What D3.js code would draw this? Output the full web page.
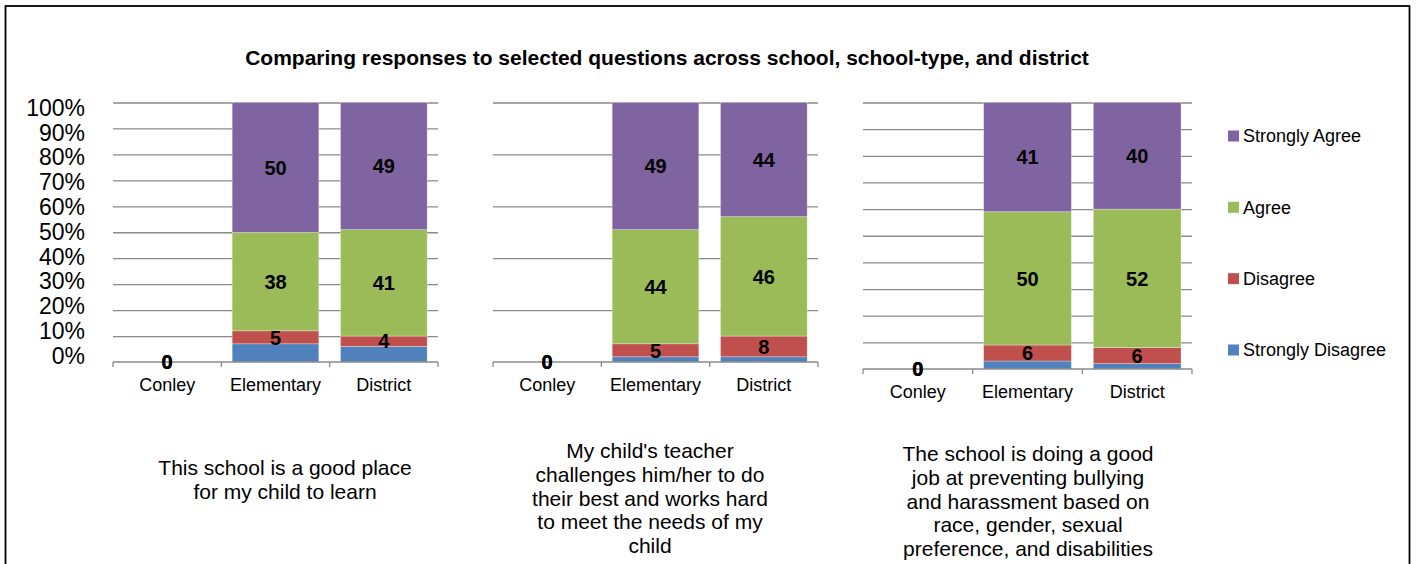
<!DOCTYPE html>
<html>
<head>
<meta charset="utf-8">
<script src="https://cdn.jsdelivr.net/npm/d3@7"></script>
<style>
  body { margin: 0; background: #fff; }
  text { font-family: "Liberation Sans", Arial, sans-serif; fill: #000; }
</style>
</head>
<body>
<svg id="chart" width="1422" height="564"></svg>
<script>
// chart values
var categories = ['Conley', 'Elementary', 'District'];
var seriesNames = ['Strongly Disagree', 'Disagree', 'Agree', 'Strongly Agree'];
var seriesColors = ['#4F81BD', '#C0504D', '#9BBB59', '#8064A2'];

// one row per question, one value per category
var stronglyDisagree = [[0, 7, 6], [0, 2, 2], [0, 3, 2]];
var disagree = [[0, 5, 4], [0, 5, 8], [0, 6, 6]];
var agree = [[0, 38, 41], [0, 44, 46], [0, 50, 52]];
var stronglyAgree = [[0, 50, 49], [0, 49, 44], [0, 41, 40]];

var questions = [
  ['This school is a good place', 'for my child to learn'],
  ["My child's teacher", 'challenges him/her to do', 'their best and works hard', 'to meet the needs of my', 'child'],
  ['The school is doing a good', 'job at preventing bullying', 'and harassment based on', 'race, gender, sexual', 'preference, and disabilities']
];

var yTicks10 = [0, 10, 20, 30, 40, 50, 60, 70, 80, 90, 100];
var yTicks20 = [0, 20, 40, 60, 80, 100];

var title = 'Comparing responses to selected questions across school, school-type, and district';

// layout of the three small charts
var panels = [
  {x0: 113, x1: 438, yTop: 102.5, yBot: 362, ticks: yTicks10, yLabels: true, textX: 285, textY: 475},
  {x0: 493, x1: 818, yTop: 102.5, yBot: 362, ticks: yTicks20, yLabels: false, textX: 650, textY: 458},
  {x0: 863, x1: 1192, yTop: 102.5, yBot: 369, ticks: yTicks10, yLabels: false, textX: 1028, textY: 461}
];

var svg = d3.select('svg#chart');

svg.append('rect')
  .attr('x', 5.5)
  .attr('y', 6)
  .attr('width', 1404)
  .attr('height', 600)
  .style('fill', '#fff')
  .style('stroke', '#000')
  .style('stroke-width', 1.8);

svg.append('text')
  .attr('x', 667)
  .attr('y', 65)
  .attr('text-anchor', 'middle')
  .style('font-size', '21px')
  .style('font-weight', 'bold')
  .text(title);

var series = [stronglyDisagree, disagree, agree, stronglyAgree];
var stack = d3.stack().keys(seriesNames);

panels.forEach(function (p, qi) {
  var rows = categories.map(function (c, ci) {
    var row = {category: c};
    seriesNames.forEach(function (s, si) {
      row[s] = series[si][qi][ci];
    });
    return row;
  });

  var x = d3.scaleBand()
    .domain(categories)
    .range([p.x0, p.x1])
    .paddingInner(0.2)
    .paddingOuter(0.1);

  var y = d3.scaleLinear()
    .domain([0, 100])
    .range([p.yBot, p.yTop]);

  var g = svg.append('g');

  // gridlines
  g.append('g')
    .attr('transform', 'translate(' + p.x0 + ',0)')
    .call(d3.axisLeft(y)
      .tickValues(p.ticks.filter(function (t) { return t > 0; }))
      .tickSize(-(p.x1 - p.x0))
      .tickFormat(''))
    .call(function (a) {
      a.select('.domain').remove();
      a.selectAll('.tick line').style('stroke', '#8a8a8a').style('stroke-width', 1.3);
    });

  // y labels (only the first chart), Excel packs them a bit tighter than the grid
  if (p.yLabels) {
    var yLab = y.copy().range([p.yBot - 6, p.yTop + 5.5]);
    g.append('g')
      .attr('transform', 'translate(' + (p.x0 - 28) + ',0)')
      .call(d3.axisLeft(yLab)
        .tickValues(p.ticks)
        .tickSize(0)
        .tickPadding(0)
        .tickFormat(function (d) { return d + '%'; }))
      .call(function (a) {
        a.select('.domain').remove();
        a.selectAll('text')
          .style('font-size', '23px')
          .style('font-family', '"Liberation Sans", Arial, sans-serif')
          .attr('fill', '#000');
      });
  }

  // stacked bars
  var layers = stack(rows);
  g.selectAll('g.layer')
    .data(layers)
    .enter()
    .append('g')
      .attr('class', 'layer')
      .style('fill', function (d, i) { return seriesColors[i]; })
    .selectAll('rect')
    .data(function (d) { return d; })
    .enter()
    .append('rect')
      .attr('x', function (d) { return x(d.data.category); })
      .attr('width', x.bandwidth())
      .attr('y', function (d) { return y(d[1]); })
      .attr('height', function (d) { return y(d[0]) - y(d[1]); })
      .style('stroke', '#fff')
      .style('stroke-opacity', 0.5)
      .style('stroke-width', 0.6);

  // x axis with ticks between categories
  var step = x.step();
  var bounds = categories.map(function (c) { return x(c) - step * x.paddingOuter(); })
    .concat([p.x1]);
  g.append('line')
    .attr('x1', p.x0).attr('x2', p.x1)
    .attr('y1', p.yBot).attr('y2', p.yBot)
    .style('stroke', '#8a8a8a').style('stroke-width', 1.3);
  g.selectAll('line.xtick')
    .data(bounds)
    .enter()
    .append('line')
      .attr('class', 'xtick')
      .attr('x1', function (d) { return d; })
      .attr('x2', function (d) { return d; })
      .attr('y1', p.yBot)
      .attr('y2', p.yBot + 5)
      .style('stroke', '#8a8a8a').style('stroke-width', 1.3);

  g.selectAll('text.cat')
    .data(categories)
    .enter()
    .append('text')
      .attr('class', 'cat')
      .attr('x', function (d) { return x(d) + x.bandwidth() / 2; })
      .attr('y', p.yBot + 28.5)
      .attr('text-anchor', 'middle')
      .style('font-size', '18px')
      .text(function (d) { return d; });

  // data labels (not on Strongly Disagree)
  layers.slice(1).forEach(function (layer) {
    g.selectAll(null)
      .data(layer)
      .enter()
      .append('text')
        .attr('x', function (d) { return x(d.data.category) + x.bandwidth() / 2; })
        .attr('y', function (d) { return (y(d[0]) + y(d[1])) / 2; })
        .attr('dy', '0.36em')
        .attr('text-anchor', 'middle')
        .style('font-size', '20px')
        .style('font-weight', 'bold')
        .text(function (d) { return d.data[layer.key]; });
  });

  // question text under each chart
  g.append('text')
    .attr('text-anchor', 'middle')
    .style('font-size', '21px')
    .selectAll('tspan')
    .data(questions[qi])
    .enter()
    .append('tspan')
      .attr('x', p.textX)
      .attr('y', function (d, i) { return p.textY + i * 23.8; })
      .text(function (d) { return d; });
});

// legend, top entry is Strongly Agree
var legendItems = seriesNames.slice().reverse();
var legendY = d3.scalePoint()
  .domain(legendItems)
  .range([136, 350]);

var legend = svg.selectAll('g.legend')
  .data(legendItems)
  .enter()
  .append('g')
    .attr('class', 'legend')
    .attr('transform', function (d) { return 'translate(1228,' + legendY(d) + ')'; });

legend.append('rect')
  .attr('x', 0)
  .attr('y', -5.5)
  .attr('width', 11)
  .attr('height', 11)
  .style('fill', function (d) { return seriesColors[seriesNames.indexOf(d)]; });

legend.append('text')
  .attr('x', 15)
  .attr('y', 0)
  .attr('dy', '0.36em')
  .style('font-size', '18px')
  .text(function (d) { return d; });
</script>
</body>
</html>
